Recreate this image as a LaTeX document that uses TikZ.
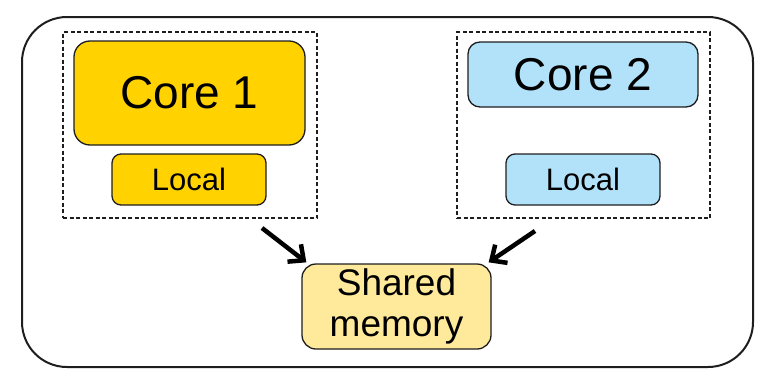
\documentclass[tikz,border=0pt]{standalone}
\usepackage{fontspec}
\setmainfont{Liberation Sans}
\usetikzlibrary{arrows.meta,calc}
\definecolor{coreyellow}{RGB}{255,210,0}
\definecolor{coreblue}{RGB}{178,226,250}
\definecolor{sharedyellow}{RGB}{255,233,155}
\definecolor{edge}{RGB}{30,30,30}
\tikzset{
  box/.style={draw=edge,line width=1.3pt,rounded corners=#1,inner sep=0pt,align=center},
  box/.default=10pt,
  group/.style={draw=edge,line width=1.1pt,dash pattern=on 4pt off 2.5pt,inner sep=0pt},
  bigtext/.style={font=\fontsize{46}{52}\selectfont},
  smalltext/.style={font=\fontsize{31}{36}\selectfont},
  sharedtext/.style={font=\fontsize{37}{41}\selectfont},
  flow/.style={line width=4.5pt,draw=black,-{Straight Barb[length=12pt,width=22pt,line width=4.5pt]}}
}
\begin{document}
\begin{tikzpicture}[x=1pt,y=-1pt]
\useasboundingbox (0,0) rectangle (770,375);
\node[box=45pt,line width=2pt,minimum width=731pt,minimum height=350pt] (outer) at (387.5,192) {};
\node[group,minimum width=254pt,minimum height=186pt] (g1) at (190,125) {};
\node[group,minimum width=253pt,minimum height=186pt] (g2) at (583.5,125) {};
\node[box=16pt,fill=coreyellow,minimum width=231pt,minimum height=104pt,bigtext] (c1) at (189.5,93) {Core 1};
\node[box=9pt,fill=coreyellow,minimum width=154pt,minimum height=51pt,smalltext] (l1) at (189,179.5) {Local};
\node[box=12pt,fill=coreblue,minimum width=230pt,minimum height=65pt,bigtext] (c2) at (583,74.5) {Core 2};
\node[box=9pt,fill=coreblue,minimum width=154pt,minimum height=51pt,smalltext] (l2) at (583,179.5) {Local};
\node[box=14pt,fill=sharedyellow,minimum width=189pt,minimum height=85pt,sharedtext] (sh) at (396.5,306.5) {Shared\\memory};
\coordinate (a1) at (262,228);
\coordinate (a2) at (535,231);
\draw[flow] (a1) -- ($(sh.north west)+(5,-1)$);
\draw[flow] (a2) -- ($(sh.north east)+(-3,-1)$);
\end{tikzpicture}
\end{document}
